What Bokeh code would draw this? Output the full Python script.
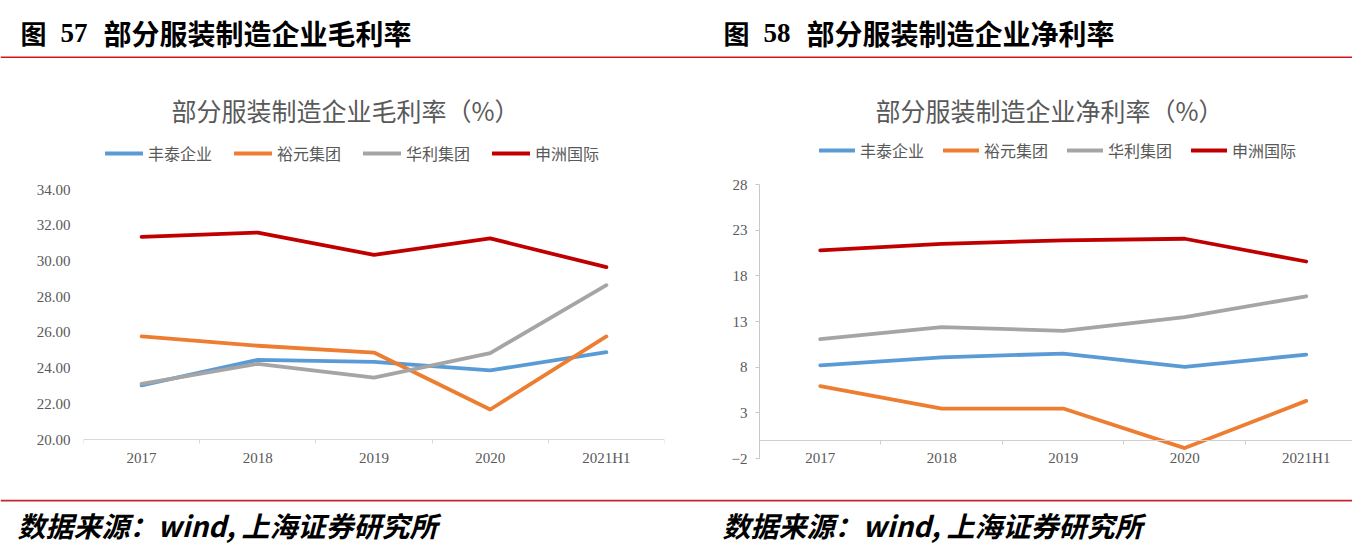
from bokeh.plotting import figure
from bokeh.layouts import column, row
from bokeh.models import (Label, Legend, LegendItem, FixedTicker, Range1d, PrintfTickFormatter,
                          Span, LinearAxis)
from bokeh.core.properties import value
from bokeh.embed import file_html
from bokeh.resources import INLINE

# ---------------- data ----------------
categories = ["2017", "2018", "2019", "2020", "2021H1"]
companies = ["丰泰企业", "裕元集团", "华利集团", "申洲国际"]

gross_fengtai = [23.03, 24.46, 24.35, 23.87, 24.89]
gross_yuyuan = [25.77, 25.25, 24.87, 21.68, 25.77]
gross_huali = [23.12, 24.24, 23.47, 24.84, 28.64]
gross_shenzhou = [31.35, 31.59, 30.34, 31.26, 29.65]

net_fengtai = [8.20, 9.08, 9.49, 8.02, 9.38]
net_yuyuan = [5.93, 3.47, 3.47, -0.86, 4.31]
net_huali = [11.06, 12.38, 11.98, 13.48, 15.76]
net_shenzhou = [20.78, 21.51, 21.88, 22.06, 19.57]

gross_ticks = [20, 22, 24, 26, 28, 30, 32, 34]
net_ticks = [-2, 3, 8, 13, 18, 23, 28]

heading_left = ["图", "57", "部分服装制造企业毛利率"]
heading_right = ["图", "58", "部分服装制造企业净利率"]
title_left = "部分服装制造企业毛利率（%）"
title_right = "部分服装制造企业净利率（%）"
source_text = "数据来源：wind, 上海证券研究所"

# ---------------- styles ----------------
colors = ["#5b9bd5", "#ed7d31", "#a5a5a5", "#c00000"]
CJK = "Noto Sans CJK SC"
SERIF = "Liberation Serif"
GRAY_TXT = "#595959"
W = 1352

x_idx = list(range(len(categories)))
minor = [i - 0.5 for i in range(len(categories) + 1)]


def chart(width, x_end, y_range, mbl, mbr, axis_at, axis_color, label_y, label_dy,
          series, title, title_x, legend_x, legend_y, glyph_w, spacing):
    # both charts share frame top (page y 88) and frame bottom (page y 499)
    p = figure(width=width, height=441, output_backend="svg", toolbar_location=None,
               x_range=Range1d(-0.5, x_end), y_range=y_range, x_axis_location=None,
               min_border_left=mbl, min_border_right=mbr, min_border_top=30,
               min_border_bottom=0, outline_line_color=None)
    p.grid.visible = False
    # category axis line with tick marks between categories
    cat_axis = LinearAxis(fixed_location=axis_at,
                          ticker=FixedTicker(ticks=[], minor_ticks=minor),
                          axis_line_color=axis_color, major_tick_line_color=None,
                          minor_tick_line_color=axis_color, minor_tick_in=4, minor_tick_out=0,
                          major_label_standoff=0)
    p.add_layout(cat_axis, "above")
    ya = p.yaxis[0]
    ya.major_label_text_font = SERIF
    ya.major_label_text_font_size = "15px"
    ya.major_label_text_color = GRAY_TXT
    ya.minor_tick_line_color = None
    rs = []
    for vals, c in zip(series, colors):
        rs.append(p.line(x_idx, vals, line_color=c, line_width=3.8,
                         line_cap="round", line_join="round"))
    p.text(x=x_idx, y=[label_y] * len(categories), text=categories, y_offset=label_dy,
           text_font=value(SERIF), text_font_size="15px", text_color=GRAY_TXT,
           text_align="center", text_baseline="middle")
    leg = Legend(items=[LegendItem(label=n, renderers=[r]) for n, r in zip(companies, rs)],
                 orientation="horizontal", location=(legend_x, legend_y), padding=0, margin=0,
                 spacing=spacing, glyph_width=glyph_w, glyph_height=20, label_standoff=5,
                 label_width=64, label_height=20, label_text_font=CJK,
                 label_text_font_size="16px", label_text_color=GRAY_TXT,
                 border_line_color=None, background_fill_alpha=0)
    p.add_layout(leg)
    p.add_layout(Label(x=title_x, y=390, x_units="screen", y_units="screen", text=title,
                       text_align="center", text_baseline="middle", text_font=CJK,
                       text_font_size="25px", text_color=GRAY_TXT))
    return p


# ---------------- left chart ----------------
pL = chart(700, len(categories) - 0.5, Range1d(16.64, 39.656), 83, 36,
           gross_ticks[0], "#d9d9d9", gross_ticks[0], 18,
           [gross_fengtai, gross_yuyuan, gross_huali, gross_shenzhou],
           title_left, 262, 22, 334, 38, 22)
ya = pL.yaxis[0]
ya.ticker = FixedTicker(ticks=gross_ticks)
ya.formatter = PrintfTickFormatter(format="%.2f")
ya.axis_line_color = None
ya.major_tick_line_color = None
ya.major_label_standoff = 7

# ---------------- right chart ----------------
pR = chart(652, 4.381, Range1d(-6.489, 38.511), 59, 0,
           0, "#d0d0d0", net_ticks[0], -1,
           [net_fengtai, net_yuyuan, net_huali, net_shenzhou],
           title_right, 290, 60, 337, 36, 19)
yr = pR.yaxis[0]
yr.ticker = FixedTicker(ticks=net_ticks)
yr.bounds = (net_ticks[0], net_ticks[-1])
yr.axis_line_color = "#c8c8c8"
yr.major_tick_line_color = "#c8c8c8"
yr.major_tick_out = 4
yr.major_tick_in = 0
yr.major_label_standoff = 8


# ---------------- headings, rules, footer ----------------
def blank(width, height):
    p = figure(width=width, height=height, output_backend="svg", toolbar_location=None,
               x_range=Range1d(0, width), y_range=Range1d(0, height),
               x_axis_location=None, y_axis_location=None, min_border=0,
               outline_line_color=None)
    p.grid.visible = False
    return p


head = blank(W, 58)
for (txt, x, font, fs) in [(heading_left[0], 20, CJK, "26px"), (heading_left[1], 60, SERIF, "27px"),
                           (heading_left[2], 103, CJK, "28px"),
                           (heading_right[0], 723, CJK, "26px"), (heading_right[1], 763, SERIF, "27px"),
                           (heading_right[2], 806, CJK, "28px")]:
    head.add_layout(Label(x=x, y=26, text=txt, text_align="left", text_baseline="middle",
                          text_font=font, text_font_size=fs, text_font_style="bold",
                          text_color="black"))
head.add_layout(Span(location=1, dimension="width", line_color="#d7141a", line_width=2))

foot = blank(W, 44)
foot.add_layout(Span(location=43, dimension="width", line_color="#c1272d", line_width=2))
for x in (17, 722):
    foot.add_layout(Label(x=x, y=19, text=source_text, text_align="left", text_baseline="middle",
                          text_font=CJK, text_font_size="28px", text_font_style="bold italic",
                          text_color="black"))

layout = column(head, row(pL, pR), foot)

open("out.html", "w").write(file_html(layout, INLINE))
